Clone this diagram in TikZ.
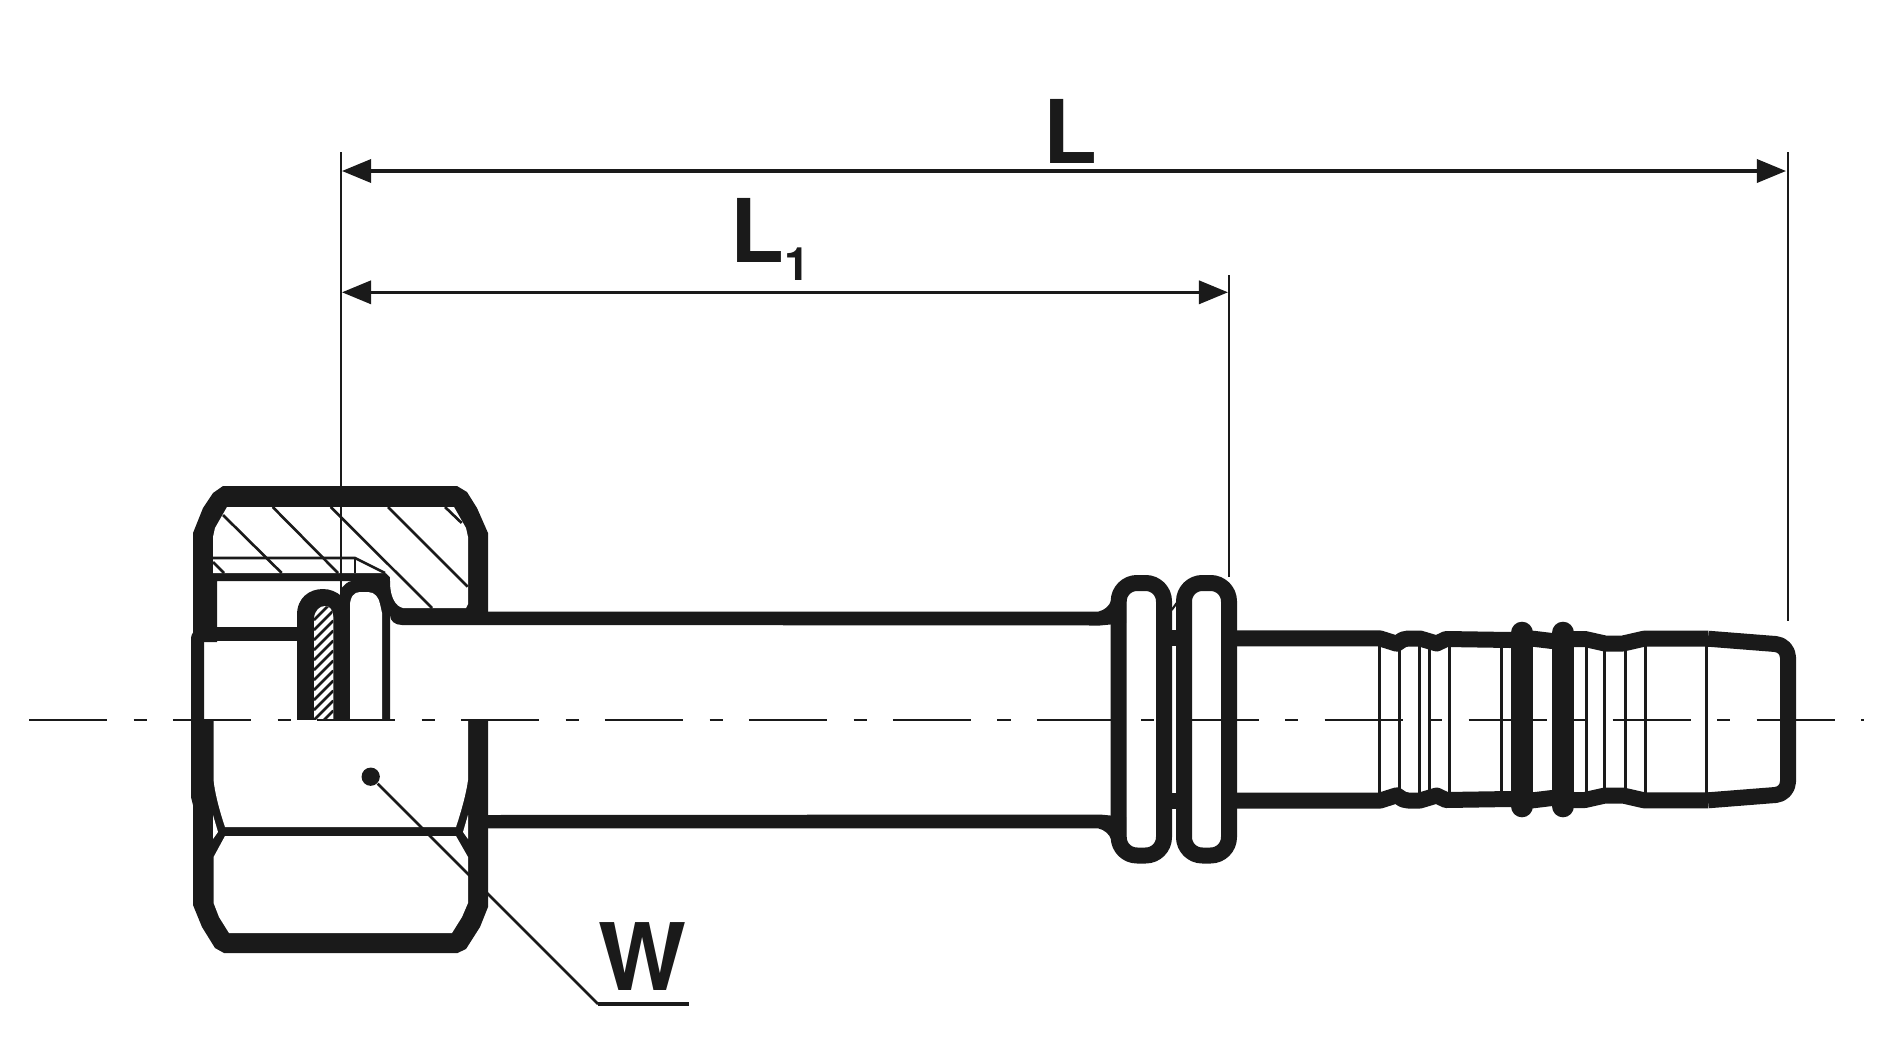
\documentclass[tikz,border=0pt]{standalone}
\usepackage{fontspec}
\setmainfont{TeX Gyre Heros}
\usetikzlibrary{arrows.meta}
\definecolor{inkblack}{HTML}{1A1A1A}
\tikzset{
  bodyline/.style={draw=inkblack, line width=4.55pt, line join=round},
  thinline/.style={draw=inkblack, line width=0.75pt},
  extline/.style={draw=inkblack, line width=0.6pt},
  dimline/.style={draw=inkblack, line width=0.9pt, {Triangle[length=8.3pt,width=6.6pt]}-{Triangle[length=8.3pt,width=6.6pt]}},
  axisline/.style={draw=inkblack, line width=0.7pt, dash pattern=on 22.28pt off 7.48pt on 3.7pt off 7.48pt},
  dimlabel/.style={inkblack, inner sep=0pt, anchor=base west, font=\fontsize{25}{30}\selectfont\bfseries},
  dotmark/.style={circle, fill=inkblack, inner sep=0pt, minimum size=5.2pt},
}
\newcommand{\tailprofile}{(1230,638.4) -- (1380,638.4) -- (1396.7,643.7) -- (1403,639.5) -- (1408,638.5) -- (1420,638.5) -- (1436.7,643.5) -- (1446,639) -- (1510,640) -- (1533,638.7) -- (1552,641) -- (1574,639) -- (1585,639) -- (1605,643.5) -- (1623,643.5) -- (1644,638.7) -- (1708,638.7)}
\newcommand{\pipeprofile}{(488,611.7) -- (1098,611.7) .. controls (1105,610) and (1109,606) .. (1111,601) -- (1126,601) -- (1126,623) -- (1100,625.5) -- (488,625) -- cycle}
\begin{document}
\begin{tikzpicture}[x=0.01cm,y=-0.01cm]
\useasboundingbox (0,0) rectangle (1890,1042);

% Nut, section
\fill[inkblack] (193,642) -- (193,533) -- (203,508) -- (213,493) -- (223,486) -- (457,486) -- (467,492) -- (477,508) -- (488,533) -- (488,625) -- (402,625) .. controls (395,625) and (390,621) .. (390,615) -- (390,581) -- (217,581) -- (217,642) -- cycle;
\fill[white] (213,537) -- (215,528) -- (227,507) -- (454,507) -- (466,528) -- (468,537) -- (468,604) -- (466,608) -- (403,608) .. controls (395,606) and (391,597) .. (390,585) -- (390,577) -- (386,573) -- (213,573) -- cycle;
\draw[thinline] (223,515) -- (281.7,573);
\draw[thinline] (213,562) -- (224,573);
\draw[thinline] (272.7,507) -- (338,573);
\draw[thinline] (330.7,507) -- (432,608);
\draw[thinline] (388,507) -- (467.7,586.7);
\draw[thinline] (445,507) -- (461.7,523);
\draw[thinline] (213,558) -- (355,558) -- (385,573);
\draw[thinline] (355,558) -- (355,573);
\fill[inkblack] (197,627) rectangle (297,641);
\fill[inkblack] (204,641) -- (204,720) -- (191,720) -- (191,640) .. controls (191,636) and (192,633) .. (194,631) -- cycle;

% Groove
\fill[inkblack] (297,720) -- (297,615) .. controls (297,598) and (309,589) .. (323,589) .. controls (337,589) and (350,600) .. (350,615) -- (350,720) -- cycle;
\fill[inkblack] (340,590) .. controls (344,585) and (348,581) .. (352,581) -- (390,581) -- (390,720) -- (345,720) -- cycle;
\fill[white] (350,720) -- (350,606) .. controls (350,597) and (354,592) .. (360,592) -- (368,592) .. controls (375,592) and (379,598) .. (380,604) -- (382,613) -- (382,720) -- cycle;
\fill[white] (314,720) -- (314,618) .. controls (315,610) and (320,606) .. (325,606) .. controls (330,606) and (333,610) .. (333.3,617) -- (333.3,720) -- cycle;
\begin{scope}
\clip (314,720) -- (314,618) .. controls (315,610) and (320,606) .. (325,606) .. controls (330,606) and (333,610) .. (333.3,617) -- (333.3,720) -- cycle;
\foreach \k in {0,...,13}
  \draw[thinline] (314,{620+\k*10}) -- (333.3,{600.7+\k*10});
\end{scope}

% Nut, outside
\fill[inkblack] (191,720) -- (191,797) -- (193,805) -- (193,905) -- (202,927) -- (215,948) -- (224,953) -- (457.5,953) -- (466,949) -- (480,927) -- (488,907) -- (488,720) -- cycle;
\fill[white] (213.6,720) -- (213.6,780) .. controls (215,795) and (221,815) .. (225,827) -- (456,827) .. controls (460,815) and (466,795) .. (468,780) -- (468,720) -- cycle;
\fill[white] (225,836) -- (213.6,857) -- (213.6,903) -- (219,917) -- (229,933) -- (452,933) -- (462,917) -- (468,903) -- (468,857) -- (456,836) -- cycle;
\fill[white] (213,815) -- (218,832) -- (213,839) -- cycle;
\fill[white] (468,815) -- (463,832) -- (468,839) -- cycle;

% Pipe
\fill[inkblack] \pipeprofile;
\begin{scope}[shift={(0,1440)},yscale=-1]
\fill[inkblack] \pipeprofile;
\end{scope}

% Beads
\draw[bodyline, rounded corners=5.2pt] (1118.7,583) rectangle (1164,855.5);
\draw[bodyline, rounded corners=5.2pt] (1184,583) rectangle (1229,855.5);
\draw[extline] (1171.7,610) -- (1176.7,603);

% Hose tail
\draw[bodyline] \tailprofile;
\begin{scope}[shift={(0,1439)},yscale=-1]
\draw[bodyline] \tailprofile;
\end{scope}
\draw[bodyline] (1160,638.4) -- (1190,638.4);
\draw[bodyline] (1160,800.6) -- (1190,800.6);
\draw[bodyline, rounded corners=3.5pt] (1708,638.7) -- (1788,645) -- (1788,794) -- (1708,800.3);
\foreach \xline in {1379,1399.5,1419.5,1429.5,1449.5,1501.7,1586,1604,1625,1645,1706}
  \draw[thinline, line width=0.85pt] (\xline,640) -- (\xline,800);
\draw[draw=inkblack, line width=6.43pt, line cap=round] (1522,633) -- (1522,806);
\draw[draw=inkblack, line width=6.43pt, line cap=round] (1563,633) -- (1563,806);

% Axis
\draw[axisline] (29,720) -- (1864,720);

% Quote
\coordinate (startext) at (341.4,152);
\coordinate (startend) at (341.4,590);
\coordinate (midext) at (1229,275);
\coordinate (midend) at (1229,577);
\coordinate (endext) at (1787.7,152);
\coordinate (endend) at (1787.7,621);
\draw[extline] (startext) -- (startend);
\draw[extline] (midext) -- (midend);
\draw[extline] (endext) -- (endend);
\coordinate (longleft) at (342,171);
\coordinate (longright) at (1786,171);
\coordinate (shortleft) at (342,292.3);
\coordinate (shortright) at (1228,292.3);
\draw[dimline] (longleft) -- (longright);
\draw[dimline] (shortleft) -- (shortright);
\node[dimlabel] (labelL) at (1043,163) {L};
\node[dimlabel] (labelLone) at (730,262) {L{\fontsize{13.1}{15}\selectfont\raisebox{-5.2pt}{1}}};

% Wrench size
\node[dotmark] (wdot) at (370.7,776.7) {};
\coordinate (wknee) at (598,1004);
\coordinate (wend) at (688.6,1004);
\draw[thinline] (wdot) -- (wknee);
\draw[inkblack, line width=0.9pt] (wknee) -- (wend);
\node[dimlabel, font=\fontsize{26.5}{30}\selectfont\bfseries] (labelW) at (598,990.7) {W};
\end{tikzpicture}
\end{document}
